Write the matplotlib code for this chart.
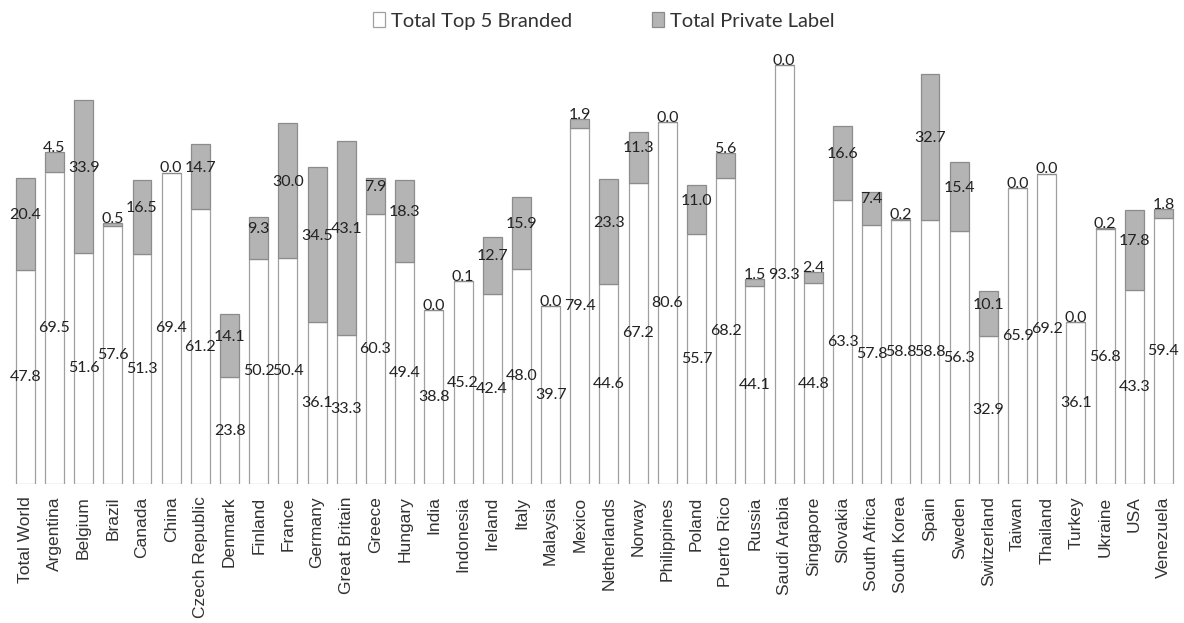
import numpy as np
import matplotlib
matplotlib.use("Agg")
import matplotlib.pyplot as plt

# data
landy = ["Total World", "Argentina", "Belgium", "Brazil", "Canada", "China",
         "Czech Republic", "Denmark", "Finland", "France", "Germany",
         "Great Britain", "Greece", "Hungary", "India", "Indonesia", "Ireland",
         "Italy", "Malaysia", "Mexico", "Netherlands", "Norway", "Philippines",
         "Poland", "Puerto Rico", "Russia", "Saudi Arabia", "Singapore",
         "Slovakia", "South Africa", "South Korea", "Spain", "Sweden",
         "Switzerland", "Taiwan", "Thailand", "Turkey", "Ukraine", "USA",
         "Venezuela"]
top5 = [47.8, 69.5, 51.6, 57.6, 51.3, 69.4, 61.2, 23.8, 50.2, 50.4, 36.1,
        33.3, 60.3, 49.4, 38.8, 45.2, 42.4, 48.0, 39.7, 79.4, 44.6, 67.2,
        80.6, 55.7, 68.2, 44.1, 93.3, 44.8, 63.3, 57.8, 58.8, 58.8, 56.3,
        32.9, 65.9, 69.2, 36.1, 56.8, 43.3, 59.4]
private = [20.4, 4.5, 33.9, 0.5, 16.5, 0.0, 14.7, 14.1, 9.3, 30.0, 34.5,
           43.1, 7.9, 18.3, 0.0, 0.1, 12.7, 15.9, 0.0, 1.9, 23.3, 11.3,
           0.0, 11.0, 5.6, 1.5, 0.0, 2.4, 16.6, 7.4, 0.2, 32.7, 15.4,
           10.1, 0.0, 0.0, 0.0, 0.2, 17.8, 1.8]

plt.rcParams['font.family'] = ['Lato', 'DejaVu Sans']

fig = plt.figure(figsize=(11.84, 6.23), dpi=100)
ax = fig.add_axes([0.009, 0.223, 0.986, 0.713])

x = np.arange(len(landy))
szer = 0.65
b1 = ax.bar(x, top5, szer, color='white', edgecolor='#a0a0a0', linewidth=0.9,
            label='Total Top 5 Branded')
b2 = ax.bar(x, private, szer, bottom=top5, color='#b4b4b4', edgecolor='#8c8c8c',
            linewidth=0.9, label='Total Private Label')

#etykiety wartosci
for i in range(len(landy)):
    ax.text(x[i], top5[i] / 2, "%.1f" % top5[i], ha='center', va='center',
            fontsize=11.5, color='#222222')
    if private[i] < 6:
        ax.text(x[i], top5[i] + private[i] - 0.6, "%.1f" % private[i],
                ha='center', va='bottom', fontsize=11.5, color='#222222')
    else:
        ax.text(x[i], top5[i] + private[i] / 2 + 2, "%.1f" % private[i],
                ha='center', va='center', fontsize=11.5, color='#222222')

ax.set_xlim(-0.5, len(landy) - 0.5)
ax.set_ylim(0, 99)
ax.set_xticks(x)
ax.set_xticklabels(landy, rotation=90, fontsize=12.5, color='#333333',
                   family=['Liberation Sans', 'DejaVu Sans'])
ax.tick_params(axis='x', length=0, pad=9)
ax.set_yticks([])
for s in ax.spines.values():
    s.set_visible(False)

leg = fig.legend(handles=[b1, b2], loc='upper center', ncol=2,
                 bbox_to_anchor=(0.51, 1.01), frameon=False, fontsize=14.5,
                 handlelength=0.6, handleheight=0.8, columnspacing=4,
                 handletextpad=0.3, labelcolor='#333333')

fig.savefig("out.png", dpi=100)
